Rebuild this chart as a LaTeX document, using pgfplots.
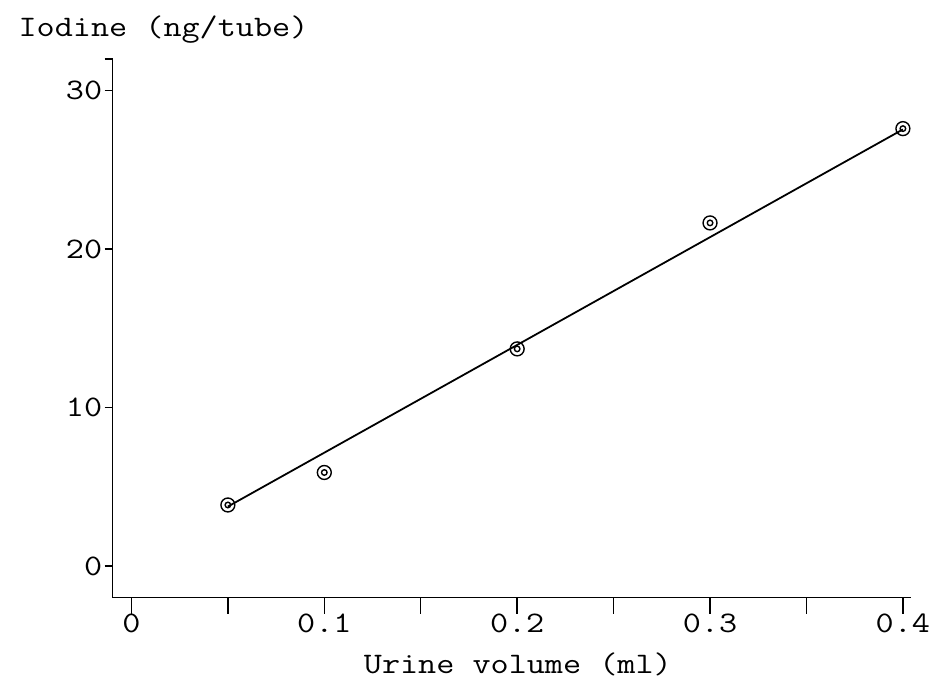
\documentclass[border=0pt]{standalone}
\usepackage{fontspec}
\usepackage{pgfplots}
\pgfplotsset{compat=1.18}
% typewriter look of the old plotter output, a bit wider than LM Mono
\newfontfamily\stretchmono[FakeStretch=1.18]{Latin Modern Mono}
\newcommand\plotfont{\fontsize{15}{18}\selectfont\stretchmono}

\begin{document}
\begin{tikzpicture}
\begin{axis}[
  scale only axis, width=402pt, height=271.2pt,
  xmin=-0.0098, xmax=0.4043, ymin=-2, ymax=32,
  axis lines*=left,
  axis line style={line width=0.75pt},
  tick align=outside,
  tick style={line width=0.75pt, black},
  major tick length=4pt,
  x tick style={/pgfplots/major tick length=8pt},
  xtick={0,0.05,0.1,0.15,0.2,0.25,0.3,0.35,0.4},
  xticklabels={0,,0.1,,0.2,,0.3,,0.4},
  ytick={0,10,20,30},
  extra y ticks={32}, extra y tick labels={},
  ticklabel style={font=\plotfont},
  /pgf/number format/assume math mode=true,
  xticklabel style={inner sep=4pt},
  yticklabel style={inner sep=1pt},
  clip=false,
]
\addplot[black, line width=0.9pt] coordinates {(0.05,3.75) (0.4,27.55)};
\addplot[only marks, mark=o, mark size=3.5pt, mark options={line width=0.7pt, black}]
  coordinates {(0.05,3.85)(0.1,5.9)(0.2,13.7)(0.3,21.65)(0.4,27.6)};
\addplot[only marks, mark=o, mark size=1.4pt, mark options={line width=0.7pt, black}]
  coordinates {(0.05,3.85)(0.1,5.9)(0.2,13.7)(0.3,21.65)(0.4,27.6)};
\node[font=\plotfont, anchor=base west] at ([xshift=-50.8pt,yshift=11.3pt]rel axis cs:0,1) {Iodine (ng/tube)};
\node[font=\plotfont, anchor=base, text depth=0pt] at ([xshift=3pt,yshift=-38.2pt]rel axis cs:0.5,0) {Urine volume (ml)};
\coordinate (O) at (rel axis cs:0,0);
\end{axis}
\path (O) ++(-56.65pt,-39.65pt) rectangle ++(469pt,340.5pt);
\end{tikzpicture}
\end{document}
